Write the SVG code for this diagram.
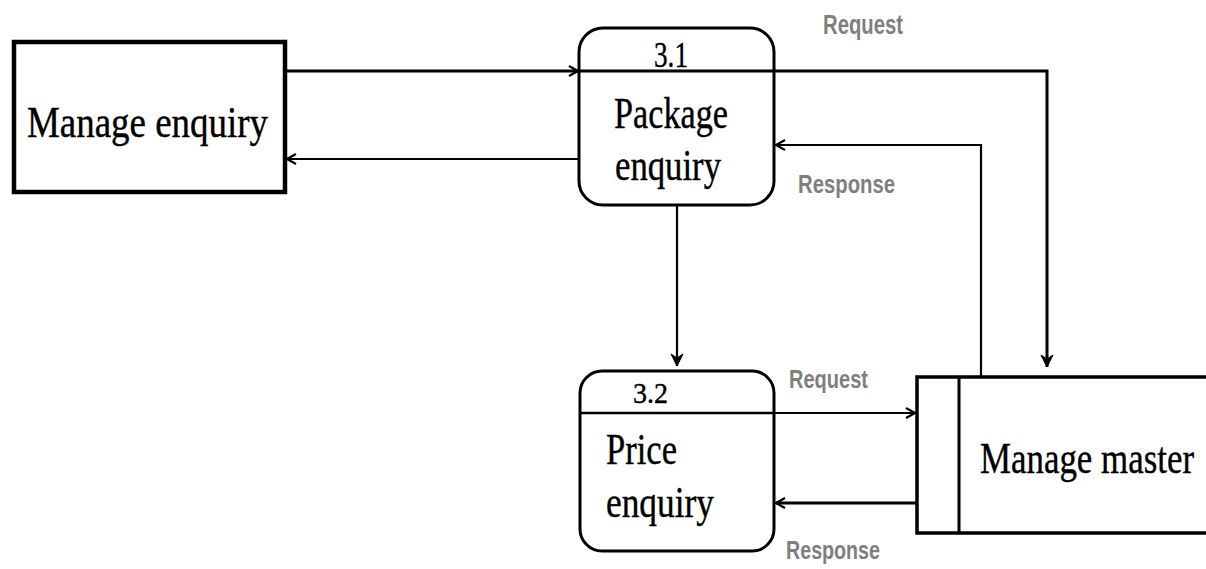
<svg xmlns="http://www.w3.org/2000/svg" width="1206" height="569" viewBox="0 0 1206 569">
<style>
.box{fill:#fff;stroke:#000}
.t{font-family:"Liberation Serif","Times New Roman",serif;fill:#000;stroke:#000;stroke-width:0.4}
.lbl{font-family:"Liberation Sans",Arial,sans-serif;font-weight:bold;fill:#7f7f7f}
.c{fill:none;stroke:#000}
</style>
<defs>
<marker id="open" viewBox="0 0 12 12" refX="11" refY="6" markerWidth="12" markerHeight="12" markerUnits="userSpaceOnUse" orient="auto">
<path d="M2,1 L11,6 L2,11" fill="none" stroke="#000" stroke-width="2.2"/>
</marker>
<marker id="filled" viewBox="0 0 14 14" refX="13" refY="7" markerWidth="14" markerHeight="14" markerUnits="userSpaceOnUse" orient="auto">
<path d="M1,1 L13,7 L1,13 L5,7 Z" fill="#000" stroke="#000" stroke-width="1"/>
</marker>
</defs>
<g id="manage-enquiry">
<rect class="box" x="14" y="42" width="271" height="150" stroke-width="4.5"/>
<text class="t" x="27" y="137" font-size="44" textLength="241" lengthAdjust="spacingAndGlyphs">Manage enquiry</text>
</g>
<g id="package-enquiry">
<rect class="box" x="579" y="28" width="195" height="177" rx="24" ry="24" stroke-width="3"/>
<text class="t" x="654" y="67" font-size="36" textLength="34" lengthAdjust="spacingAndGlyphs">3.1</text>
<text class="t" x="614" y="128" font-size="44" textLength="114" lengthAdjust="spacingAndGlyphs">Package</text>
<text class="t" x="615" y="180" font-size="44" textLength="106" lengthAdjust="spacingAndGlyphs">enquiry</text>
</g>
<g id="price-enquiry">
<rect class="box" x="580" y="371" width="194" height="180" rx="22" ry="22" stroke-width="3"/>
<line x1="580" y1="413" x2="774" y2="413" stroke="#000" stroke-width="2.5"/>
<text class="t" x="633" y="403" font-size="29" textLength="35" lengthAdjust="spacingAndGlyphs">3.2</text>
<text class="t" x="606" y="464" font-size="45" textLength="71" lengthAdjust="spacingAndGlyphs">Price</text>
<text class="t" x="606" y="517" font-size="45" textLength="108" lengthAdjust="spacingAndGlyphs">enquiry</text>
</g>
<g id="manage-master">
<rect class="box" x="917" y="377" width="300" height="156" stroke-width="3.5"/>
<line x1="959" y1="377" x2="959" y2="533" stroke="#000" stroke-width="3"/>
<text class="t" x="980" y="473" font-size="45" textLength="214" lengthAdjust="spacingAndGlyphs">Manage master</text>
</g>
<g id="connectors">
<path class="c" d="M285,71 L578,71" stroke-width="3" marker-end="url(#open)"/>
<path class="c" d="M578,71 L1047,71 L1047,367" stroke-width="3" marker-end="url(#filled)"/>
<path class="c" d="M579,159 L287,159" stroke-width="2.2" marker-end="url(#open)"/>
<path class="c" d="M981,376 L981,145 L776,145" stroke-width="2.2" marker-end="url(#open)"/>
<path class="c" d="M677,205 L677,366" stroke-width="2.2" marker-end="url(#filled)"/>
<path class="c" d="M774,413 L915,413" stroke-width="2.2" marker-end="url(#open)"/>
<path class="c" d="M916,503 L776,503" stroke-width="3" marker-end="url(#open)"/>
<text class="lbl" x="823" y="34" font-size="27" textLength="80" lengthAdjust="spacingAndGlyphs">Request</text>
<text class="lbl" x="798" y="193" font-size="25" textLength="97" lengthAdjust="spacingAndGlyphs">Response</text>
<text class="lbl" x="789" y="388" font-size="25" textLength="79" lengthAdjust="spacingAndGlyphs">Request</text>
<text class="lbl" x="786" y="559" font-size="25" textLength="94" lengthAdjust="spacingAndGlyphs">Response</text>
</g>
</svg>
